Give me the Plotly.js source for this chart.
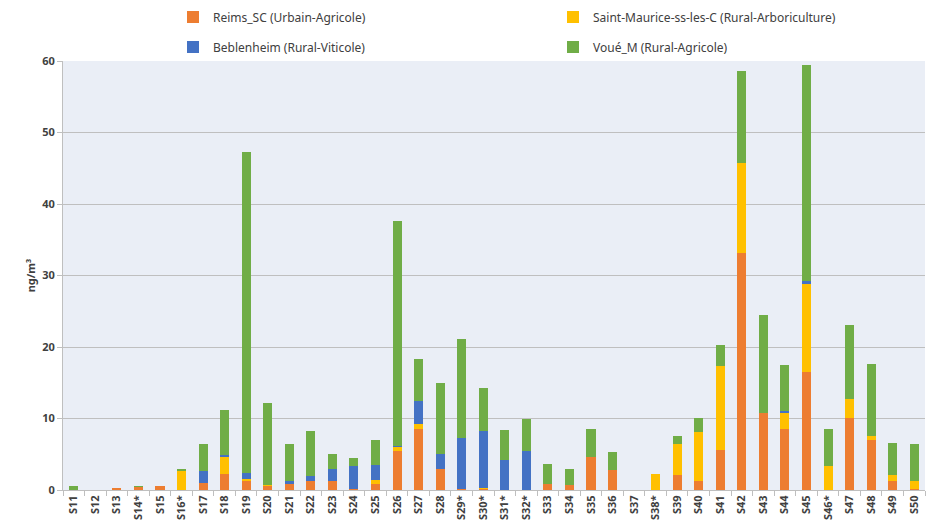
<!DOCTYPE html>
<html>
<head>
<meta charset="utf-8">
<script src="https://cdn.plot.ly/plotly-3.0.1.min.js"></script>
<style>html,body{margin:0;padding:0;background:#fff;}#chart{width:935px;height:531px;}</style>
</head>
<body>
<div id="chart"></div>
<script>
const categories = ["S11","S12","S13","S14*","S15","S16*","S17","S18","S19","S20",
  "S21","S22","S23","S24","S25","S26","S27","S28","S29*","S30*",
  "S31*","S32*","S33","S34","S35","S36","S37","S38*","S39","S40",
  "S41","S42","S43","S44","S45","S46*","S47","S48","S49","S50"];

const reims = [0,0,0.3,0.4,0.5,0,1.0,2.2,1.3,0.6,
  0.9,1.3,1.3,0.1,0.9,5.5,8.5,3.0,0.1,0.2,
  0,0,0.8,0.7,4.6,2.8,0,0,2.1,1.3,
  5.6,33.2,10.8,8.5,16.5,0,10.1,7.0,1.3,0.2];
const saintMaurice = [0,0,0,0,0,2.7,0,2.4,0.3,0.1,
  0,0,0,0,0.5,0.5,0.7,0,0,0.1,
  0,0,0,0,0,0,0,2.2,4.3,6.8,
  11.7,12.6,0,2.3,12.3,3.3,2.6,0.6,0.8,1.1];
const beblenheim = [0,0,0,0,0,0,1.6,0.3,0.8,0,
  0.4,0.7,1.6,3.3,2.1,0.2,3.3,2.1,7.2,8.0,
  4.2,5.5,0,0,0,0,0,0,0,0,
  0,0,0,0.2,0.5,0,0,0,0,0];
const voue = [0.5,0,0,0.1,0.1,0.3,3.8,6.3,44.9,11.4,
  5.2,6.2,2.2,1.1,3.5,31.4,5.8,9.8,13.8,5.9,
  4.2,4.4,2.8,2.3,4.0,2.5,0,0,1.1,2.0,
  3.0,12.8,13.7,6.5,30.2,5.3,10.4,10.0,4.5,5.2];

const seriesNames = ["Reims_SC (Urbain-Agricole)","Saint-Maurice-ss-les-C (Rural-Arboriculture)",
  "Beblenheim (Rural-Viticole)","Voué_M (Rural-Agricole)"];
const colors = ["#ED7D31","#FFC000","#4472C4","#70AD47"];
const yTicks = [0,10,20,30,40,50,60];

const fontFam = "'Liberation Sans Narrow','Arial Narrow','Noto Sans',sans-serif";
const vals = [reims, saintMaurice, beblenheim, voue];
const legendIds = ["legend","legend2","legend3","legend4"];

const traces = vals.map((v,i)=>({
  type:"bar", x:categories, y:v, name:seriesNames[i],
  marker:{color:colors[i], line:{width:0}},
  legend:legendIds[i], hoverinfo:"x+y+name"
}));

function leg(x, y){
  return {
    orientation:"h", xref:"container", yref:"container",
    xanchor:"left", yanchor:"middle", x:x, y:y,
    font:{family:fontFam, size:12, color:"#404040"},
    bgcolor:"rgba(0,0,0,0)", itemwidth:30
  };
}

const layout = {
  width:935, height:531,
  margin:{l:63, r:10, t:61, b:41, autoexpand:false},
  paper_bgcolor:"#ffffff",
  plot_bgcolor:"#EAEEF6",
  barmode:"stack",
  bargap:0.58,
  showlegend:true,
  legend:leg(173/935, 1-17/531),
  legend2:leg(553/935, 1-17/531),
  legend3:leg(173/935, 1-47/531),
  legend4:leg(553/935, 1-47/531),
  font:{family:fontFam, color:"#404040"},
  xaxis:{
    type:"category", tickangle:-90,
    tickfont:{family:fontFam, size:11, color:"#404040", weight:"bold"},
    ticks:"outside", tickson:"boundaries", ticklen:5, tickcolor:"#BFBFBF",
    showline:true, linecolor:"#BFBFBF", linewidth:1,
    showgrid:false, automargin:false
  },
  yaxis:{
    range:[0,60], tickvals:yTicks, ticktext:yTicks.map(String),
    tickfont:{family:fontFam, size:11, color:"#404040", weight:"bold"},
    showgrid:true, gridcolor:"#BFBFBF", gridwidth:1,
    showline:true, linecolor:"#BFBFBF", linewidth:1,
    ticks:"outside", ticklen:5, tickcolor:"#BFBFBF",
    zeroline:false, automargin:false,
    title:{text:"ng/m³", font:{family:fontFam, size:11, color:"#404040", weight:"bold"}, standoff:4}
  }
};

Plotly.newPlot("chart", traces, layout, {displayModeBar:false, staticPlot:true});
</script>
</body>
</html>
